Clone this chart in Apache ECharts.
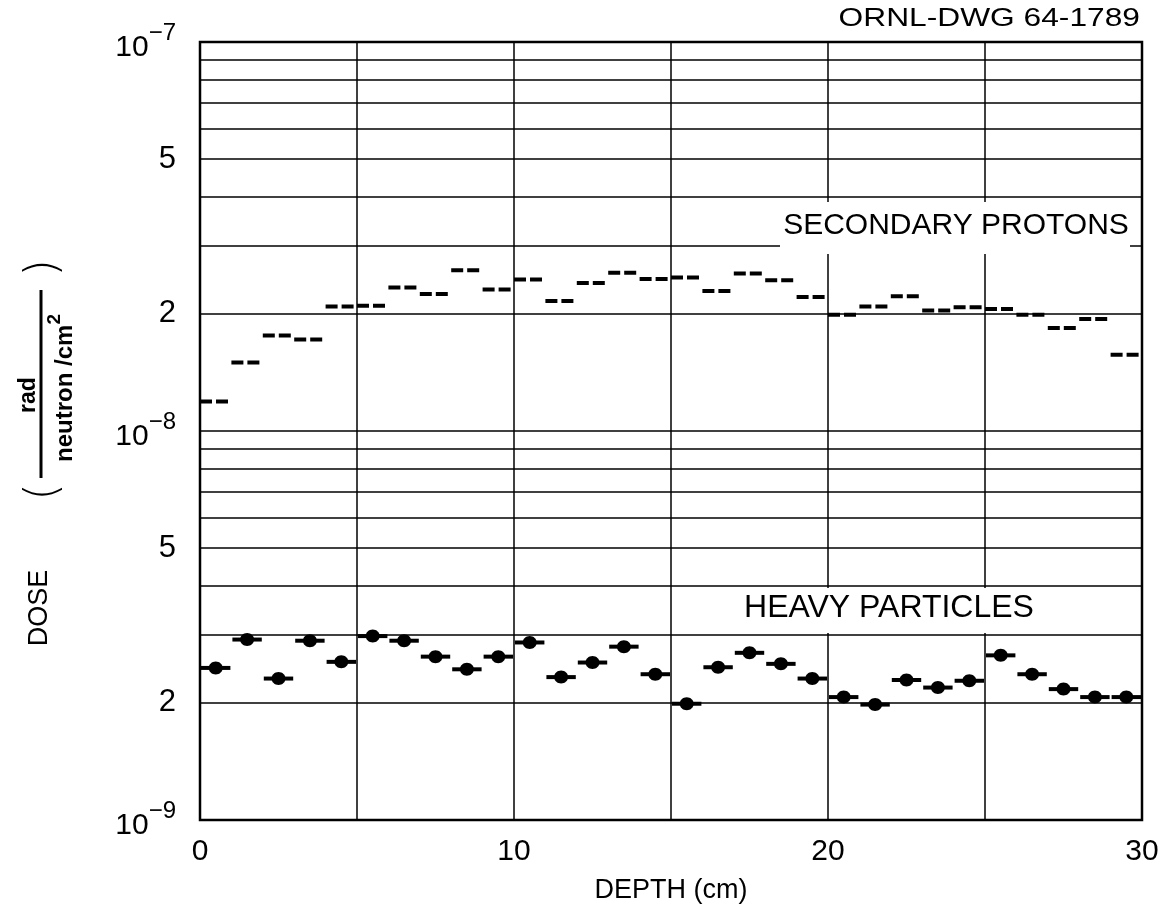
<!DOCTYPE html>
<html>
<head>
<meta charset="utf-8">
<script src="https://cdn.jsdelivr.net/npm/echarts@6/dist/echarts.min.js"></script>
<style>html,body{margin:0;padding:0;background:#fff;}#c{width:1173px;height:914px;}</style>
</head>
<body>
<div id="c"></div>
<script>
// ---- data ----
const depthStart = [0,1,2,3,4,5,6,7,8,9,10,11,12,13,14,15,16,17,18,19,20,21,22,23,24,25,26,27,28,29];
const depthEnd   = [1,2,3,4,5,6,7,8,9,10,11,12,13,14,15,16,17,18,19,20,21,22,23,24,25,26,27,28,29,30];
const protonDose = [1.19e-8,1.50e-8,1.76e-8,1.72e-8,2.09e-8,2.10e-8,2.34e-8,2.25e-8,2.59e-8,2.31e-8,
                    2.45e-8,2.16e-8,2.40e-8,2.55e-8,2.46e-8,2.48e-8,2.29e-8,2.54e-8,2.44e-8,2.21e-8,
                    1.99e-8,2.09e-8,2.22e-8,2.04e-8,2.08e-8,2.06e-8,1.99e-8,1.84e-8,1.94e-8,1.57e-8];
const heavyDose  = [2.46e-9,2.91e-9,2.31e-9,2.89e-9,2.55e-9,2.97e-9,2.89e-9,2.63e-9,2.44e-9,2.63e-9,
                    2.86e-9,2.33e-9,2.54e-9,2.79e-9,2.37e-9,1.99e-9,2.47e-9,2.69e-9,2.52e-9,2.31e-9,
                    2.07e-9,1.98e-9,2.29e-9,2.19e-9,2.28e-9,2.65e-9,2.37e-9,2.17e-9,2.07e-9,2.07e-9];
const yGridValues  = [2e-9,3e-9,4e-9,5e-9,6e-9,7e-9,8e-9,9e-9,1e-8,2e-8,3e-8,4e-8,5e-8,6e-8,7e-8,8e-8,9e-8];
const yLabelValues = [1e-9,2e-9,5e-9,1e-8,2e-8,5e-8,1e-7];
const yLabelTexts  = ['{b|10}{s|\u22129}','2','5','{b|10}{s|\u22128}','2','5','{b|10}{s|\u22127}'];
const xLabelValues = [0,10,20,30];
const FONT = 'Liberation Sans';

const chart = echarts.init(document.getElementById('c'), null, {renderer:'canvas'});

const protonData = depthStart.map((s,i)=>[s, depthEnd[i], protonDose[i]]);
const heavyData  = depthStart.map((s,i)=>[s, depthEnd[i], heavyDose[i]]);

const center = {align:'center', verticalAlign:'middle', textAlign:'center', textVerticalAlign:'middle', fill:'#000'};

const option = {
  backgroundColor: '#fff',
  animation: false,
  grid: {left:200, right:31, top:42, bottom:94, show:true, borderColor:'#000', borderWidth:2.5, backgroundColor:'transparent'},
  xAxis: {
    type:'value', min:0, max:30, interval:5,
    axisLine:{show:false}, axisTick:{show:false},
    splitLine:{show:true, lineStyle:{color:'#000', width:1.5}},
    axisLabel:{margin:17, fontSize:30, fontFamily:FONT, color:'#000',
      formatter: v => xLabelValues.indexOf(v) >= 0 ? String(v) : ''},
    name:'DEPTH (cm)', nameLocation:'middle', nameGap:57,
    nameTextStyle:{fontSize:27, fontFamily:FONT, color:'#000'}
  },
  yAxis: [
    {type:'log', logBase:10, min:1e-9, max:1e-7, show:false},
    {type:'value', min:-9, max:-7, position:'left',
      axisLine:{show:false},
      axisTick:{show:false, customValues: yGridValues.map(v=>Math.log10(v))},
      splitLine:{show:true, lineStyle:{color:'#000', width:1.5}},
      axisLabel:{
        margin:24, color:'#000', fontSize:31, fontFamily:FONT,
        customValues: yLabelValues.map(v=>Math.log10(v)),
        formatter: v => {
          const i = yLabelValues.findIndex(l => Math.abs(Math.log10(l) - v) < 1e-6);
          return i >= 0 ? yLabelTexts[i] : '';
        },
        rich:{
          b:{fontSize:30, fontFamily:FONT, color:'#000', padding:[12,0,0,0], verticalAlign:'bottom'},
          s:{fontSize:24, fontFamily:FONT, color:'#000', verticalAlign:'top'}
        }
      }
    }
  ],
  series: [
    {
      name:'SECONDARY PROTONS', type:'custom', yAxisIndex:0, data: protonData,
      renderItem: (params, api) => {
        const a = api.coord([api.value(0), api.value(2)]);
        const b = api.coord([api.value(1), api.value(2)]);
        return {type:'line', shape:{x1:a[0], y1:a[1], x2:b[0], y2:b[1]},
          style:{stroke:'#000', lineWidth:4, lineDash:[12,4]}};
      }
    },
    {
      name:'HEAVY PARTICLES', type:'custom', yAxisIndex:0, data: heavyData,
      renderItem: (params, api) => {
        const a = api.coord([api.value(0), api.value(2)]);
        const b = api.coord([api.value(1), api.value(2)]);
        const m = api.coord([(api.value(0)+api.value(1))/2, api.value(2)]);
        return {type:'group', children:[
          {type:'line', shape:{x1:a[0]+1, y1:a[1], x2:b[0]-1, y2:b[1]}, style:{stroke:'#000', lineWidth:4}},
          {type:'ellipse', shape:{cx:m[0], cy:m[1], rx:7, ry:6.5}, style:{fill:'#000'}}
        ]};
      }
    }
  ],
  graphic: [
    {type:'rect', z:50, shape:{x:780, y:202, width:350, height:52}, style:{fill:'#fff'}},
    {type:'text', z:51, x:956, y:226, style:Object.assign({text:'SECONDARY PROTONS', fontSize:30, fontFamily:FONT}, center)},
    {type:'rect', z:50, shape:{x:690, y:588, width:448, height:45}, style:{fill:'#fff'}},
    {type:'text', z:51, x:889, y:608, style:Object.assign({text:'HEAVY PARTICLES', fontSize:32, fontFamily:FONT}, center)},
    {type:'text', z:51, x:1140, y:19, scaleX:1.22, style:{text:'ORNL-DWG 64-1789', fontSize:26, fontFamily:FONT, fill:'#000', align:'right', verticalAlign:'middle', textAlign:'right', textVerticalAlign:'middle'}},
    // y axis title, drawn in a rotated group (local u: reading direction, v: across)
    {type:'group', z:51, x:41, y:384, rotation:Math.PI/2, children:[
      {type:'text', x:-224, y:-1, style:Object.assign({text:'DOSE', fontSize:27, fontFamily:FONT}, center)},
      {type:'text', x:-108, y:4, style:Object.assign({text:'(', fontSize:44, fontFamily:'DejaVu Sans', fontWeight:200}, center)},
      {type:'text', x:116, y:4, style:Object.assign({text:')', fontSize:44, fontFamily:'DejaVu Sans', fontWeight:200}, center)},
      {type:'text', x:-11, y:-12, style:Object.assign({text:'rad', fontSize:23, fontWeight:'bold', fontFamily:FONT}, center)},
      {type:'line', shape:{x1:-94, y1:0, x2:94, y2:0}, style:{stroke:'#000', lineWidth:3}},
      {type:'text', x:-4, y:20, style:Object.assign({text:'{a|neutron /cm}{s|2}',
        rich:{a:{fontSize:24, fontWeight:'bold', fontFamily:FONT, color:'#000', padding:[8,0,0,0], verticalAlign:'bottom'},
              s:{fontSize:19, fontWeight:'bold', fontFamily:FONT, color:'#000', verticalAlign:'top'}}}, center)}
    ]}
  ]
};
chart.setOption(option);
</script>
</body>
</html>
